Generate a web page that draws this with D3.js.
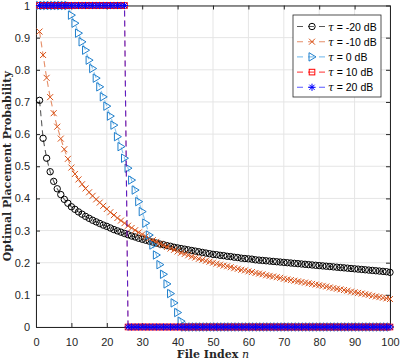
<!DOCTYPE html>
<html>
<head>
<meta charset="utf-8">
<script src="https://cdn.jsdelivr.net/npm/d3@7"></script>
<style>
body { margin: 0; background: #fff; }
svg { display: block; }
.tick text { font-family: "Liberation Sans", Arial, sans-serif; font-size: 11px; fill: #262626; }
.txtAxis { font-family: "DejaVu Serif", serif; font-weight: bold; font-size: 11px; fill: #262626; }
.txtLegend { font-family: "Liberation Sans", Arial, sans-serif; font-size: 10.5px; fill: #000; }
</style>
</head>
<body>
<div id="chart"></div>
<script>
// file index n = 1..100
var fileIndex = d3.range(1, 101);

var xTicks = [0, 10, 20, 30, 40, 50, 60, 70, 80, 90, 100];
var yTicks = [0, 0.1, 0.2, 0.3, 0.4, 0.5, 0.6, 0.7, 0.8, 0.9, 1];
var yTickLabels = ["0", "0.1", "0.2", "0.3", "0.4", "0.5", "0.6", "0.7", "0.8", "0.9", "1"];

var seriesNames = ["-20 dB", "-10 dB", "0 dB", "10 dB", "20 dB"];

// tau = -20 dB
var pNeg20 = [
0.705,0.587,0.525,0.483,0.453,0.430,0.412,0.397,0.385,0.374,
0.366,0.358,0.351,0.344,0.338,0.332,0.327,0.322,0.317,0.313,
0.308,0.303,0.299,0.295,0.291,0.287,0.283,0.280,0.276,0.273,
0.270,0.267,0.264,0.261,0.258,0.256,0.253,0.251,0.248,0.246,
0.244,0.242,0.240,0.238,0.236,0.234,0.232,0.230,0.228,0.226,
0.225,0.223,0.222,0.220,0.219,0.217,0.216,0.214,0.213,0.212,
0.211,0.209,0.208,0.207,0.206,0.205,0.204,0.203,0.202,0.201,
0.200,0.199,0.198,0.197,0.196,0.195,0.194,0.193,0.192,0.191,
0.190,0.189,0.188,0.187,0.186,0.185,0.184,0.183,0.182,0.181,
0.180,0.179,0.178,0.177,0.176,0.175,0.174,0.173,0.172,0.170];

// tau = -10 dB
var pNeg10 = [
0.919,0.846,0.775,0.715,0.665,0.623,0.586,0.553,0.523,0.496,
0.476,0.459,0.444,0.431,0.419,0.408,0.397,0.387,0.377,0.367,
0.357,0.348,0.339,0.331,0.323,0.315,0.308,0.301,0.294,0.288,
0.282,0.276,0.270,0.265,0.259,0.254,0.249,0.244,0.240,0.235,
0.231,0.227,0.223,0.219,0.216,0.212,0.209,0.206,0.203,0.200,
0.197,0.194,0.191,0.189,0.186,0.183,0.181,0.178,0.176,0.173,
0.171,0.168,0.166,0.164,0.161,0.159,0.157,0.155,0.153,0.150,
0.148,0.146,0.144,0.142,0.140,0.138,0.136,0.134,0.132,0.130,
0.128,0.126,0.123,0.121,0.119,0.117,0.115,0.113,0.110,0.108,
0.106,0.104,0.102,0.100,0.097,0.095,0.093,0.091,0.089,0.087];

// tau = 0 dB
var p0 = [
1,1,1,1,1,1,1,1,1,0.970,
0.945,0.914,0.887,0.861,0.830,0.804,0.774,0.747,0.716,0.687,
0.656,0.628,0.592,0.561,0.525,0.494,0.457,0.426,0.390,0.359,
0.323,0.286,0.255,0.224,0.194,0.164,0.134,0.104,0.075,0.045,
0.018,0,0,0,0,0,0,0,0,0,
0,0,0,0,0,0,0,0,0,0,
0,0,0,0,0,0,0,0,0,0,
0,0,0,0,0,0,0,0,0,0,
0,0,0,0,0,0,0,0,0,0,
0,0,0,0,0,0,0,0,0,0];

// tau = 10 dB
var p10 = [
1,1,1,1,1,1,1,1,1,1,
1,1,1,1,1,1,1,1,1,1,
1,1,1,1,1,0,0,0,0,0,
0,0,0,0,0,0,0,0,0,0,
0,0,0,0,0,0,0,0,0,0,
0,0,0,0,0,0,0,0,0,0,
0,0,0,0,0,0,0,0,0,0,
0,0,0,0,0,0,0,0,0,0,
0,0,0,0,0,0,0,0,0,0,
0,0,0,0,0,0,0,0,0,0];

// tau = 20 dB
var p20 = [
1,1,1,1,1,1,1,1,1,1,
1,1,1,1,1,1,1,1,1,1,
1,1,1,1,1,0,0,0,0,0,
0,0,0,0,0,0,0,0,0,0,
0,0,0,0,0,0,0,0,0,0,
0,0,0,0,0,0,0,0,0,0,
0,0,0,0,0,0,0,0,0,0,
0,0,0,0,0,0,0,0,0,0,
0,0,0,0,0,0,0,0,0,0,
0,0,0,0,0,0,0,0,0,0];

var width = 400;
var height = 362;
var pLeft = 36, pRight = 390, pTop = 5.5, pBottom = 327;

var svg = d3.select("#chart")
.append("svg")
.attr("width", width)
.attr("height", height);

var x = d3.scaleLinear().domain([0, 100]).range([pLeft, pRight]);
var y = d3.scaleLinear().domain([0, 1]).range([pBottom, pTop]);

// grid
svg.append("g")
.selectAll("line")
.data(xTicks)
.enter().append("line")
.attr("x1", function(d) { return x(d); })
.attr("x2", function(d) { return x(d); })
.attr("y1", pTop).attr("y2", pBottom)
.attr("stroke", "#e5e5e5").attr("stroke-width", 1);

svg.append("g")
.selectAll("line")
.data(yTicks)
.enter().append("line")
.attr("y1", function(d) { return y(d); })
.attr("y2", function(d) { return y(d); })
.attr("x1", pLeft).attr("x2", pRight)
.attr("stroke", "#e5e5e5").attr("stroke-width", 1);

// axes, ticks pointing inward
function styleAxis(g) {
    g.select(".domain").attr("stroke", "#262626").attr("stroke-width", 1);
    g.selectAll(".tick line").attr("stroke", "#262626");
}

svg.append("g")
.attr("transform", "translate(0," + pBottom + ")")
.call(d3.axisBottom(x).tickValues(xTicks).tickSizeInner(-4).tickSizeOuter(0).tickPadding(11))
.call(styleAxis);

svg.append("g")
.attr("transform", "translate(" + pLeft + ",0)")
.call(d3.axisLeft(y).tickValues(yTicks).tickFormat(function(d, i) { return yTickLabels[i]; })
    .tickSizeInner(-4).tickSizeOuter(0).tickPadding(6))
.call(styleAxis);

svg.append("g")
.attr("transform", "translate(0," + pTop + ")")
.call(d3.axisTop(x).tickValues(xTicks).tickSizeInner(-4).tickSizeOuter(0).tickFormat(""))
.call(styleAxis);

svg.append("g")
.attr("transform", "translate(" + pRight + ",0)")
.call(d3.axisRight(y).tickValues(yTicks).tickSizeInner(-4).tickSizeOuter(0).tickFormat(""))
.call(styleAxis);

// marker shapes
var markers = {
    circle: function(g) {
        g.append("circle").attr("r", 3.2);
    },
    cross: function(g) {
        g.append("path").attr("d", "M-3,-3L3,3M-3,3L3,-3");
    },
    tri: function(g) {
        g.append("path").attr("d", "M-3,-4.2L4,0L-3,4.2Z");
    },
    square: function(g) {
        g.append("rect").attr("x", -2.8).attr("y", -2.8).attr("width", 5.6).attr("height", 5.6);
    },
    star: function(g) {
        g.append("path").attr("d", "M0,-3.6V3.6M-3.6,0H3.6M-2.6,-2.6L2.6,2.6M-2.6,2.6L2.6,-2.6");
    }
};

var series = [
    { name: seriesNames[0], values: pNeg20, line: "#000000", mark: "#000000", shape: "circle" },
    { name: seriesNames[1], values: pNeg10, line: "#D95319", mark: "#D95319", shape: "cross" },
    { name: seriesNames[2], values: p0, line: "#4aa6e6", mark: "#1f7fcc", shape: "tri" },
    { name: seriesNames[3], values: p10, line: "#ff0000", mark: "#ff0000", shape: "square" },
    { name: seriesNames[4], values: p20, line: "#0000ff", mark: "#0000ff", shape: "star" }
];

var line = d3.line()
.x(function(d, i) { return x(fileIndex[i]); })
.y(function(d) { return y(d); });

var plot = svg.append("g").attr("class", "plot");

series.forEach(function(s) {
    var g = plot.append("g");
    g.append("path")
    .attr("d", line(s.values))
    .attr("fill", "none")
    .attr("stroke", s.line)
    .attr("stroke-opacity", 0.65)
    .attr("stroke-width", 1.1)
    .attr("stroke-dasharray", "6,4");

    g.selectAll("g.m")
    .data(s.values)
    .enter().append("g")
    .attr("class", "m")
    .attr("transform", function(d, i) { return "translate(" + x(fileIndex[i]) + "," + y(d) + ")"; })
    .each(function() { markers[s.shape](d3.select(this)); })
    .selectAll("*")
    .attr("fill", "none")
    .attr("stroke", s.mark)
    .attr("stroke-width", 1);
});

// legend
var legend = svg.append("g")
.attr("class", "legend")
.attr("transform", "translate(293,15)");

legend.append("rect")
.attr("width", 88)
.attr("height", 82)
.attr("fill", "#fff")
.attr("stroke", "#262626")
.attr("stroke-width", 0.8);

series.forEach(function(s, i) {
    var row = legend.append("g")
    .attr("transform", "translate(0," + (11.5 + i * 15.2) + ")");
    row.append("line")
    .attr("x1", 4).attr("x2", 34)
    .attr("stroke", s.line)
    .attr("stroke-opacity", 0.65)
    .attr("stroke-width", 1.1)
    .attr("stroke-dasharray", "6,5");
    var m = row.append("g").attr("transform", "translate(19,0)");
    markers[s.shape](m);
    m.selectAll("*")
    .attr("fill", "none")
    .attr("stroke", s.mark)
    .attr("stroke-width", 1);
    var t = row.append("text")
    .attr("class", "txtLegend")
    .attr("x", 35)
    .attr("y", 4);
    t.append("tspan")
    .attr("font-family", "'DejaVu Serif', serif")
    .attr("font-style", "italic")
    .text("τ");
    t.append("tspan").text(" = " + s.name);
});

// axis labels
var xl = svg.append("text")
.attr("class", "txtAxis")
.attr("x", (pLeft + pRight) / 2)
.attr("y", 358)
.attr("text-anchor", "middle");
xl.append("tspan").text("File Index ");
xl.append("tspan").attr("font-style", "italic").attr("font-weight", "normal").text("n");

svg.append("text")
.attr("class", "txtAxis")
.attr("transform", "translate(11," + ((pTop + pBottom) / 2) + ") rotate(-90)")
.attr("text-anchor", "middle")
.text("Optimal Placement Probability");
</script>
</body>
</html>
